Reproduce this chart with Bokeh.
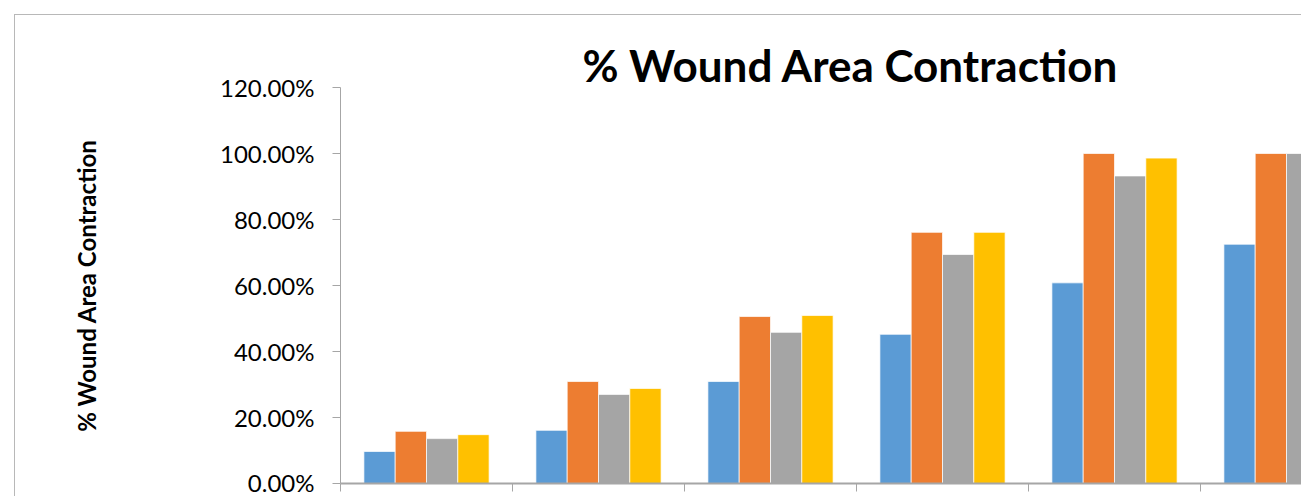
from bokeh.plotting import figure
from bokeh.models import Range1d, FixedTicker, NumeralTickFormatter, ColumnDataSource
from bokeh.embed import file_html
from bokeh.resources import INLINE

categories = ["Group 1", "Group 2", "Group 3", "Group 4", "Group 5", "Group 6"]
series_names = ["Series 1", "Series 2", "Series 3", "Series 4"]
series_1 = [0.097, 0.161, 0.309, 0.452, 0.608, 0.725]
series_2 = [0.158, 0.309, 0.506, 0.761, 1.000, 1.000]
series_3 = [0.136, 0.270, 0.458, 0.694, 0.932, 1.000]
series_4 = [0.148, 0.288, 0.509, 0.761, 0.986, 1.000]
colors = ["#5B9BD5", "#ED7D31", "#A5A5A5", "#FFC000"]
y_ticks = [0.0, 0.2, 0.4, 0.6, 0.8, 1.0, 1.2]

p = figure(width=1287, height=482, output_backend="svg", toolbar_location=None,
           x_range=Range1d(0, 962 / 172), y_range=Range1d(0, 1.2),
           min_border_left=325, min_border_top=72, min_border_right=0, min_border_bottom=14,
           margin=(14, 0, 0, 14), title="% Wound Area Contraction")
p.styles = {"border-top": "1px solid #b8b8b8", "border-left": "1px solid #b8b8b8"}
p.outline_line_color = None
p.grid.visible = False
p.background_fill_color = "white"
p.border_fill_color = "white"

p.title.align = "left"
p.title.offset = 242
p.title.text_font = "Lato"
p.title.text_font_style = "bold"
p.title.text_font_size = "44px"
p.title.text_color = "#000000"
p.title.standoff = -7

bw = 0.182
all_series = [series_1, series_2, series_3, series_4]
for k, vals in enumerate(all_series):
    xs = [i + 0.5 + (k - 1.5) * bw for i in range(len(categories))]
    src = ColumnDataSource(dict(x=xs, top=vals, cat=categories))
    p.vbar(x="x", top="top", bottom=0, width=bw, source=src, fill_color=colors[k],
           line_color="white", line_width=1, line_alpha=0.7)

ax = p.yaxis[0]
ax.ticker = FixedTicker(ticks=y_ticks)
ax.formatter = NumeralTickFormatter(format="0.00%")
ax.axis_line_color = "#a6a6a6"
ax.major_tick_line_color = "#a6a6a6"
ax.major_tick_out = 8
ax.major_tick_in = 0
ax.minor_tick_line_color = None
ax.major_label_text_font = "Lato"
ax.major_label_text_font_size = "24px"
ax.major_label_text_color = "#000000"
ax.major_label_standoff = 18
ax.axis_label = "% Wound Area Contraction"
ax.axis_label_text_font = "Lato"
ax.axis_label_text_font_style = "bold"
ax.axis_label_text_font_size = "24px"
ax.axis_label_text_color = "#000000"
ax.axis_label_standoff = 116

xa = p.xaxis[0]
xa.ticker = FixedTicker(ticks=list(range(0, 7)))
xa.axis_line_color = "#a6a6a6"
xa.axis_line_width = 2
xa.major_tick_line_color = "#a6a6a6"
xa.major_tick_out = 8
xa.major_tick_in = 0
xa.minor_tick_line_color = None
xa.major_label_text_color = None

open("out.html", "w").write(file_html(p, INLINE))
